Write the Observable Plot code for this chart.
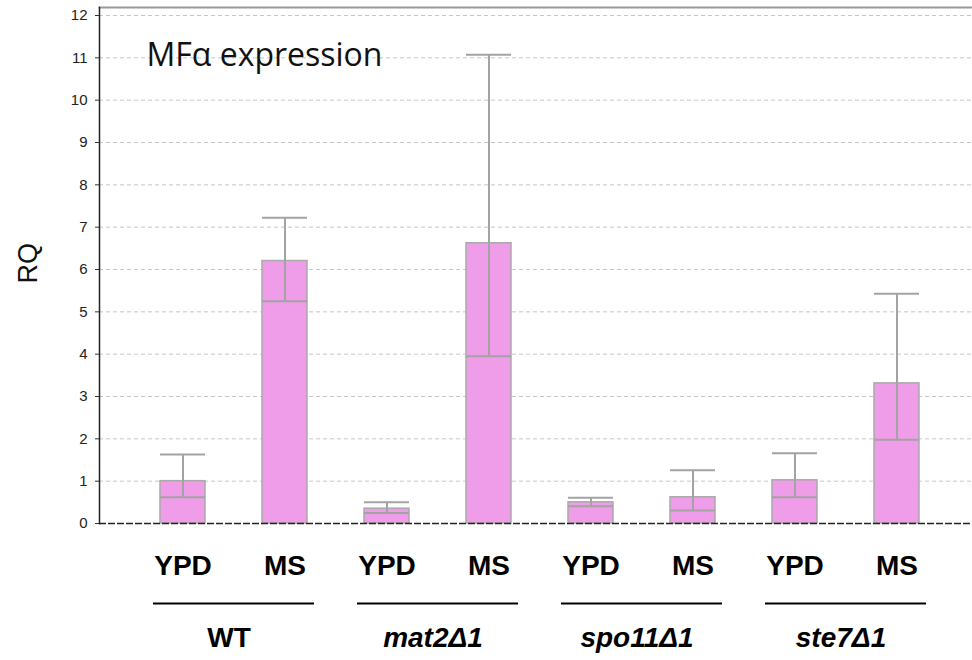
<!DOCTYPE html>
<html><head><meta charset="utf-8">
<script src="https://cdn.jsdelivr.net/npm/d3@7"></script>
<script src="https://cdn.jsdelivr.net/npm/@observablehq/plot@0.6"></script>
<style>
html,body{margin:0;padding:0;background:#fff;}
</style></head><body><div id="chart"></div>
<script>
const categories = ["WT YPD","WT MS","mat2Δ1 YPD","mat2Δ1 MS","spo11Δ1 YPD","spo11Δ1 MS","ste7Δ1 YPD","ste7Δ1 MS"];
const conditions = ["YPD","MS","YPD","MS","YPD","MS","YPD","MS"];
const strains = ["WT","mat2Δ1","spo11Δ1","ste7Δ1"];
const rq    = [1.00, 6.20, 0.35, 6.62, 0.50, 0.62, 1.02, 3.31];
const rqMax = [1.63, 7.22, 0.50, 11.07, 0.61, 1.26, 1.66, 5.43];
const rqMin = [0.62, 5.25, 0.25, 3.95, 0.41, 0.31, 0.62, 1.98];
const yTicks = [0,1,2,3,4,5,6,7,8,9,10,11,12];
const title = "MFα expression";
const yLabel = "RQ";

const data = categories.map((c,i)=>({key:c, cond:conditions[i], rq:rq[i], hi:rqMax[i], lo:rqMin[i]}));
const groups = strains.map((s,i)=>({strain:s, first:categories[2*i], last:categories[2*i+1]}));

const err = "#a3a3a3";
const plot = Plot.plot({
  width:972, height:660,
  marginLeft:99, marginRight:0, marginTop:7, marginBottom:137,
  x:{domain:categories, range:[157.5, 921.4], paddingInner:0.56, paddingOuter:0, axis:null},
  y:{domain:[0,12], range:[523,15], axis:null},
  style:{fontFamily:"'Liberation Sans', Arial, sans-serif", background:"#fff", overflow:"visible"},
  marks:[
    Plot.ruleY(yTicks.filter(d=>d>0), {stroke:"#c6c6c6", strokeDasharray:"4,3"}),
    Plot.barY(data, {x:"key", y:"rq", fill:"#ef9de8", stroke:"#aaaaaa", strokeWidth:1.5}),
    Plot.ruleX(data, {x:"key", y1:"lo", y2:"hi", stroke:err, strokeWidth:2}),
    Plot.tickY(data, {x:"key", y:"hi", stroke:err, strokeWidth:2}),
    Plot.tickY(data, {x:"key", y:"lo", stroke:err, strokeWidth:2}),
    Plot.ruleY([0], {stroke:"#222", strokeDasharray:"7,2", strokeWidth:1.5}),
    Plot.frame({anchor:"top", stroke:"#999", strokeWidth:2}),
    Plot.frame({anchor:"left", stroke:"#222", strokeWidth:1.5}),
    Plot.axisY(yTicks, {tickSize:4, text:null, stroke:"#333", label:null}),
    Plot.text(yTicks, {y:d=>d, text:d=>String(d), frameAnchor:"left", textAnchor:"end", dx:-12, fontSize:15, fill:"#222"}),
    Plot.text(data, {x:"key", text:"cond", frameAnchor:"bottom", lineAnchor:"top", dy:32, fontSize:28, fontWeight:"bold", fill:"#000"}),
    Plot.ruleY(groups, {y:0, x1:"first", x2:"last", dy:80, insetLeft:-7, insetRight:-7, stroke:"#000", strokeWidth:2.2}),
    Plot.text(groups.filter(g=>g.strain==="WT"), {x:"first", text:"strain", dx:46, frameAnchor:"bottom", lineAnchor:"top", dy:104, fontSize:28, fontWeight:"bold", fill:"#000"}),
    Plot.text(groups.filter(g=>g.strain!=="WT"), {x:"first", text:"strain", dx:46, frameAnchor:"bottom", lineAnchor:"top", dy:104, fontSize:28, fontWeight:"bold", fontStyle:"italic", fill:"#000"}),
    Plot.text([yLabel], {text:d=>d, frameAnchor:"left", rotate:-90, dx:-71, dy:18, fontSize:27, fill:"#111"}),
    Plot.text([title], {text:d=>d, frameAnchor:"top-left", textAnchor:"start", lineAnchor:"top", dx:47, dy:36, fontSize:32, fontFamily:"'Open Sans', sans-serif", fill:"#111"})
  ]
});
document.getElementById("chart").appendChild(plot);
</script></body></html>
